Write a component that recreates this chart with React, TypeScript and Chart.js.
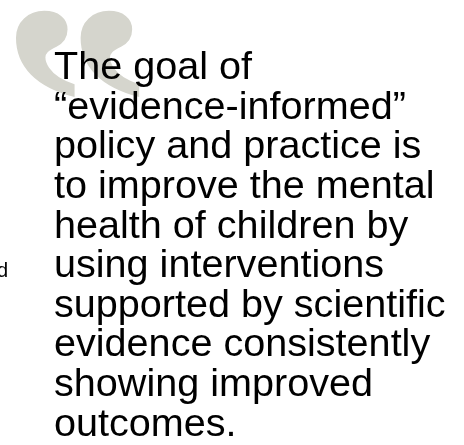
import React, { useEffect, useRef } from "react";
import { Chart, registerables } from "chart.js";

Chart.register(...registerables);

// ---- content ----
const quoteLines: string[] = [
  "The goal of",
  "\u201Cevidence-informed\u201D",
  "policy and practice is",
  "to improve the mental",
  "health of children by",
  "using interventions",
  "supported by scientific",
  "evidence consistently",
  "showing improved",
  "outcomes.",
];
const quoteMark = "\u201C";
const marginFragment = "d";

const TEXT_FONT = '"Liberation Sans", Arial, Helvetica, sans-serif';

const quoteMarkPlugin = {
  id: "quoteMark",
  beforeDraw(chart: any) {
    const ctx: CanvasRenderingContext2D = chart.ctx;
    ctx.save();
    ctx.font = 'bold 200px "Liberation Serif", "Times New Roman", serif';
    ctx.textAlign = "left";
    ctx.textBaseline = "alphabetic";
    const m = ctx.measureText(quoteMark);
    const L = m.actualBoundingBoxLeft;
    const R = m.actualBoundingBoxRight;
    const A = m.actualBoundingBoxAscent;
    const D = m.actualBoundingBoxDescent;
    const inkW = L + R;
    const inkH = A + D;
    const bx0 = 15, by0 = 10, bx1 = 140, by1 = 97;
    const sx = (bx1 - bx0) / inkW;
    const sy = (by1 - by0) / inkH;
    ctx.translate(bx0 + sx * L, by0 + sy * D);
    ctx.scale(sx, -sy);
    ctx.fillStyle = "#d5d5cd";
    ctx.fillText(quoteMark, 0, 0);
    ctx.restore();
  },
  afterDraw(chart: any) {
    const ctx: CanvasRenderingContext2D = chart.ctx;
    ctx.save();
    ctx.font = `20px ${TEXT_FONT}`;
    ctx.fillStyle = "#000";
    ctx.textAlign = "right";
    ctx.textBaseline = "alphabetic";
    ctx.fillText(marginFragment, 8, 277);
    ctx.restore();
  },
};

export default function App() {
  const ref = useRef<HTMLCanvasElement | null>(null);
  useEffect(() => {
    if (!ref.current) return;
    const chart = new Chart(ref.current, {
      type: "scatter",
      data: { datasets: [] },
      options: {
        animation: false,
        responsive: false,
        devicePixelRatio: 1,
        layout: { padding: { left: 54, top: 0, right: 0, bottom: 0 } },
        plugins: {
          legend: { display: false },
          tooltip: { enabled: false },
          title: {
            display: true,
            text: quoteLines,
            align: "start",
            color: "#000000",
            font: { family: TEXT_FONT, size: 39.6, weight: "normal", lineHeight: 1.0 },
            padding: { top: 48.5, bottom: 0 },
          },
        },
        scales: { x: { display: false }, y: { display: false } },
      },
      plugins: [quoteMarkPlugin],
    } as any);
    return () => chart.destroy();
  }, []);
  return (
    <div style={{ position: "absolute", left: 0, top: 0, width: 464, height: 445, background: "#fff" }}>
      <canvas ref={ref} width={464} height={445} style={{ display: "block" }} />
    </div>
  );
}
